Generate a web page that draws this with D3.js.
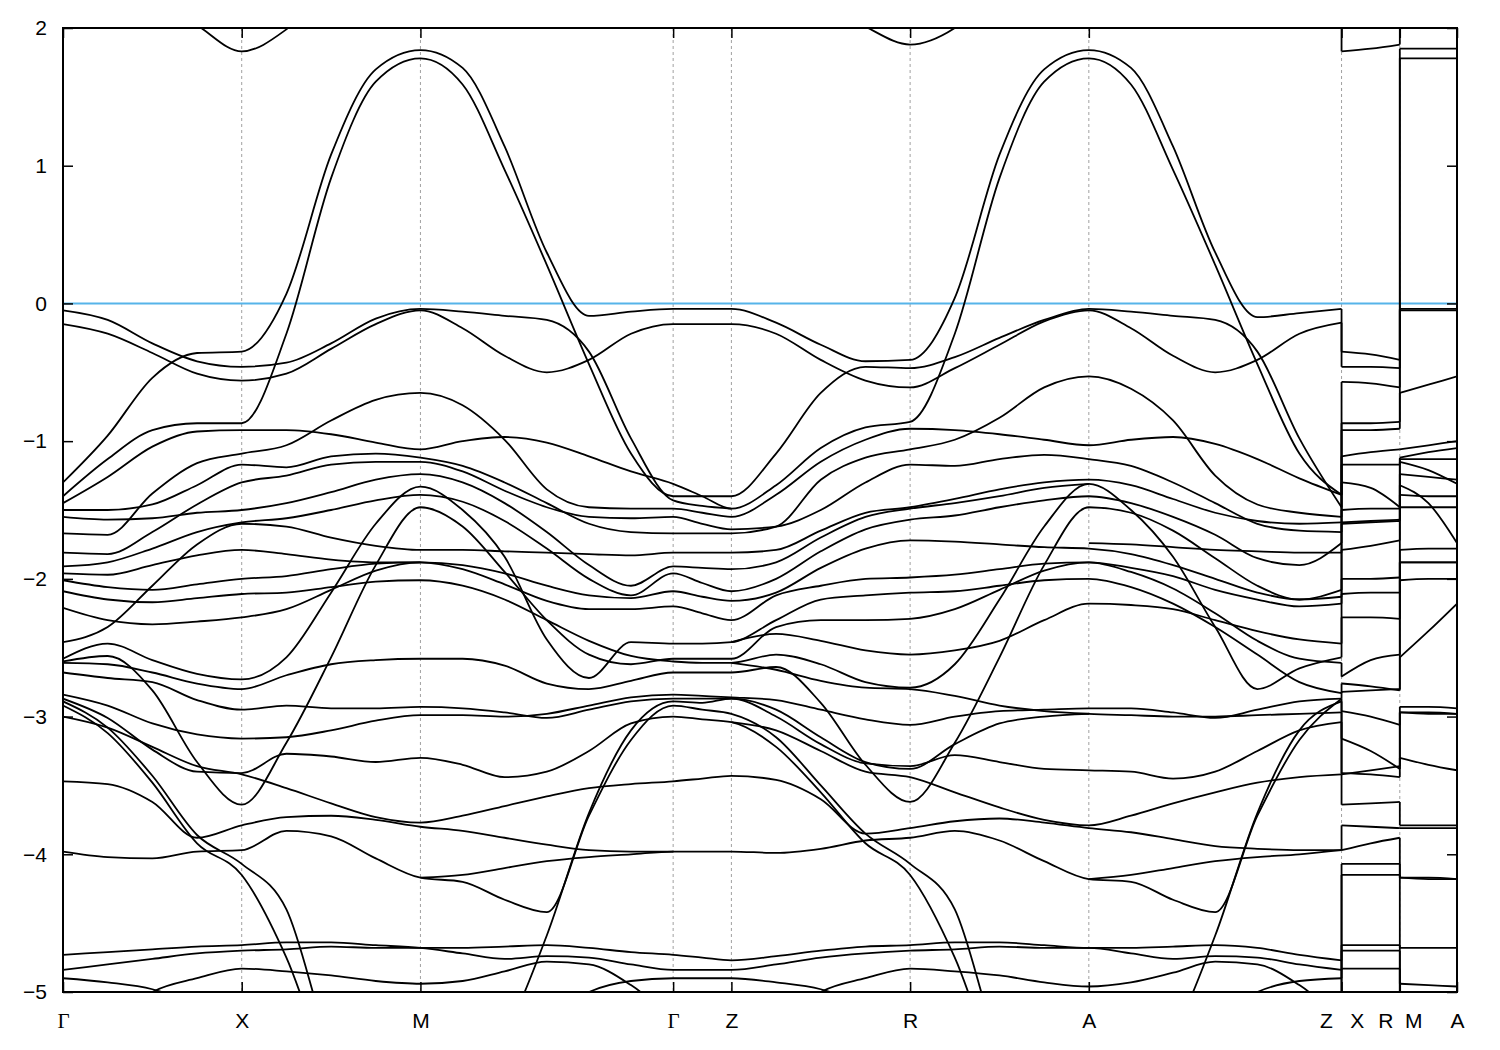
<!DOCTYPE html>
<html><head><meta charset="utf-8">
<script src="https://cdn.jsdelivr.net/npm/d3@7"></script>
<style>
body{margin:0;background:#fff}
text{font-family:"Liberation Sans",Arial,sans-serif}
</style>
</head><body>
<svg id="c" width="1500" height="1050"></svg>
<script>
// ---------- k-path ticks ----------
const tickPos = [0, 1, 2, 3.414, 3.74, 4.74, 5.74, 7.154, 7.48, 7.80];
const tickLabels = ["Γ", "X", "M", "Γ", "Z", "R", "A", "Z   X", "R  M", "A"];
const yTicks = [-5, -4, -3, -2, -1, 0, 1, 2];
const fermiLevel = 0;

// ---------- k samples per segment ----------
const kGX = [0, 0.25, 0.5, 0.75, 1];
const kXM = [1, 1.25, 1.5, 1.75, 2];
const kMG = [2, 2.236, 2.471, 2.707, 2.943, 3.178, 3.414];
const kGZ = [3.414, 3.577, 3.74];
const kZR = [3.74, 3.99, 4.24, 4.49, 4.74];
const kRA = [4.74, 4.99, 5.24, 5.49, 5.74];
const kAZ = [5.74, 5.976, 6.211, 6.447, 6.683, 6.918, 7.154];
const kXR = [7.154, 7.317, 7.48];
const kMA = [7.48, 7.64, 7.80];

// ---------- band energies (eV) ----------
const bandsGX = [
  [2.6, 2.45, 2.22, 2.02, 1.83],
  [-0.05, -0.12, -0.29, -0.42, -0.46],
  [-0.15, -0.22, -0.36, -0.51, -0.56],
  [-1.30, -0.96, -0.54, -0.36, -0.35],
  [-1.40, -1.13, -0.92, -0.87, -0.87],
  [-1.45, -1.26, -1.04, -0.93, -0.92],
  [-1.67, -1.68, -1.38, -1.16, -1.09],
  [-1.50, -1.50, -1.46, -1.32, -1.17],
  [-1.55, -1.57, -1.56, -1.52, -1.50],
  [-1.81, -1.82, -1.66, -1.46, -1.30],
  [-1.91, -1.88, -1.78, -1.66, -1.59],
  [-1.96, -1.97, -1.90, -1.83, -1.79],
  [-2.01, -2.06, -2.08, -2.04, -2.00],
  [-2.09, -2.15, -2.17, -2.14, -2.11],
  [-2.21, -2.30, -2.33, -2.31, -2.28],
  [-2.46, -2.35, -2.05, -1.75, -1.60],
  [-2.58, -2.47, -2.59, -2.69, -2.73],
  [-2.61, -2.62, -2.68, -2.76, -2.80],
  [-2.60, -2.56, -2.81, -3.33, -3.64],
  [-2.68, -2.72, -2.75, -2.88, -2.95],
  [-2.84, -2.92, -3.05, -3.13, -3.16],
  [-2.87, -3.01, -3.24, -3.40, -3.41],
  [-2.89, -3.08, -3.43, -3.86, -4.07],
  [-2.92, -3.12, -3.48, -3.92, -4.15],
  [-3.00, -3.08, -3.22, -3.36, -3.42],
  [-3.47, -3.49, -3.62, -3.88, -3.79],
  [-3.98, -4.02, -4.03, -3.98, -3.97],
  [-4.73, -4.71, -4.69, -4.67, -4.66],
  [-4.84, -4.80, -4.76, -4.72, -4.70],
  [-4.90, -4.93, -4.98, -5.10, -5.30],
  [-5.50, -5.25, -5.00, -4.90, -4.83]
];
const bandsXM = [
  [1.83, 1.99, 2.3, 2.5, 2.6],
  [-0.35, 0.07, 1.08, 1.70, 1.84],
  [-0.87, -0.22, 0.91, 1.61, 1.78],
  [-0.46, -0.43, -0.29, -0.11, -0.04],
  [-0.56, -0.51, -0.33, -0.15, -0.05],
  [-1.09, -1.03, -0.85, -0.70, -0.65],
  [-0.92, -0.92, -0.95, -1.01, -1.06],
  [-1.17, -1.19, -1.11, -1.09, -1.12],
  [-1.30, -1.25, -1.17, -1.15, -1.15],
  [-1.50, -1.45, -1.37, -1.28, -1.24],
  [-1.59, -1.56, -1.50, -1.43, -1.39],
  [-1.60, -1.62, -1.70, -1.76, -1.79],
  [-1.79, -1.82, -1.86, -1.88, -1.88],
  [-2.00, -1.98, -1.93, -1.89, -1.88],
  [-2.11, -2.10, -2.06, -2.02, -2.01],
  [-2.28, -2.22, -2.08, -1.94, -1.88],
  [-2.73, -2.57, -2.10, -1.60, -1.33],
  [-2.80, -2.70, -2.62, -2.59, -2.58],
  [-3.64, -3.19, -2.57, -1.90, -1.48],
  [-2.95, -2.92, -2.94, -2.94, -2.93],
  [-3.16, -3.15, -3.10, -3.03, -2.99],
  [-3.41, -3.27, -3.29, -3.33, -3.30],
  [-3.42, -3.52, -3.63, -3.73, -3.77],
  [-3.79, -3.73, -3.72, -3.75, -3.80],
  [-3.97, -3.83, -3.87, -4.03, -4.17],
  [-4.07, -4.40, -5.40, -5.80, -6.00],
  [-4.15, -4.75, -5.60, -6.00, -6.00],
  [-4.66, -4.64, -4.64, -4.66, -4.68],
  [-4.70, -4.69, -4.67, -4.68, -4.68],
  [-4.83, -4.85, -4.88, -4.92, -4.94]
];
const bandsMG = [
  [2.6, 2.6, 2.6, 2.6, 2.6, 2.6, 2.6],
  [1.84, 1.71, 1.14, 0.37, -0.09, -0.06, -0.04],
  [1.78, 1.59, 0.97, 0.28, -0.44, -1.09, -1.40],
  [-0.04, -0.06, -0.09, -0.12, -0.35, -0.98, -1.43],
  [-0.05, -0.18, -0.38, -0.50, -0.41, -0.22, -0.15],
  [-0.65, -0.74, -0.99, -1.35, -1.48, -1.49, -1.49],
  [-1.06, -1.00, -0.97, -1.01, -1.11, -1.22, -1.31],
  [-1.12, -1.18, -1.30, -1.45, -1.60, -1.66, -1.67],
  [-1.15, -1.22, -1.36, -1.48, -1.55, -1.56, -1.55],
  [-1.24, -1.30, -1.45, -1.66, -1.90, -2.05, -1.91],
  [-1.33, -1.50, -1.84, -2.44, -2.72, -2.46, -2.47],
  [-1.39, -1.44, -1.58, -1.78, -2.00, -2.12, -1.96],
  [-1.48, -1.62, -1.95, -2.30, -2.55, -2.62, -2.58],
  [-1.79, -1.79, -1.80, -1.81, -1.82, -1.83, -1.81],
  [-1.88, -1.90, -1.96, -2.05, -2.12, -2.14, -2.09],
  [-1.88, -1.93, -2.04, -2.16, -2.22, -2.22, -2.20],
  [-2.01, -2.05, -2.15, -2.30, -2.45, -2.56, -2.60],
  [-2.58, -2.58, -2.63, -2.76, -2.80, -2.74, -2.68],
  [-2.93, -2.94, -2.97, -3.01, -2.95, -2.89, -2.87],
  [-2.99, -2.99, -3.00, -2.98, -2.92, -2.86, -2.84],
  [-3.30, -3.35, -3.44, -3.40, -3.25, -3.05, -3.00],
  [-3.77, -3.72, -3.65, -3.58, -3.52, -3.49, -3.47],
  [-3.80, -3.83, -3.88, -3.93, -3.97, -3.98, -3.98],
  [-4.17, -4.20, -4.33, -4.42, -3.72, -3.17, -2.92],
  [-6.00, -5.60, -5.30, -4.59, -3.70, -3.10, -2.89],
  [-4.17, -4.15, -4.10, -4.05, -4.02, -4.00, -3.98],
  [-4.68, -4.68, -4.67, -4.66, -4.68, -4.71, -4.73],
  [-4.68, -4.72, -4.76, -4.74, -4.75, -4.80, -4.84],
  [-4.94, -4.92, -4.85, -4.78, -4.80, -4.95, -5.20],
  [-5.50, -5.50, -5.40, -5.20, -5.00, -4.92, -4.90]
];
const bandsGZ = [
  [-0.04, -0.04, -0.04], [-0.15, -0.15, -0.15], [-1.31, -1.40, -1.49],
  [-1.40, -1.40, -1.40], [-1.43, -1.47, -1.49], [-1.49, -1.52, -1.55],
  [-1.55, -1.60, -1.64], [-1.67, -1.67, -1.67], [-1.81, -1.81, -1.81],
  [-1.91, -1.92, -1.93], [-1.96, -2.03, -2.09], [-2.09, -2.13, -2.16],
  [-2.20, -2.25, -2.30], [-2.47, -2.47, -2.46], [-2.58, -2.58, -2.58],
  [-2.60, -2.61, -2.61], [-2.68, -2.68, -2.68], [-2.84, -2.85, -2.86],
  [-2.87, -2.87, -2.87], [-2.89, -2.90, -2.87], [-2.92, -2.95, -2.98],
  [-3.00, -3.02, -3.04], [-3.47, -3.45, -3.43], [-3.98, -3.98, -3.98],
  [-4.73, -4.75, -4.77], [-4.84, -4.84, -4.84], [-4.90, -4.90, -4.90]
];
const bandsZR = [
  [2.6, 2.4, 2.2, 2.01, 1.88],
  [-0.04, -0.14, -0.30, -0.42, -0.41],
  [-0.15, -0.22, -0.41, -0.56, -0.61],
  [-1.40, -1.09, -0.65, -0.46, -0.47],
  [-1.49, -1.32, -1.05, -0.90, -0.86],
  [-1.55, -1.39, -1.15, -0.99, -0.91],
  [-1.67, -1.62, -1.28, -1.12, -1.06],
  [-1.64, -1.62, -1.50, -1.30, -1.17],
  [-1.81, -1.79, -1.65, -1.52, -1.48],
  [-1.93, -1.88, -1.70, -1.55, -1.49],
  [-2.09, -2.00, -1.80, -1.64, -1.57],
  [-2.16, -2.10, -1.92, -1.78, -1.72],
  [-2.30, -2.12, -2.05, -2.00, -1.99],
  [-2.46, -2.30, -2.15, -2.12, -2.10],
  [-2.58, -2.35, -2.30, -2.30, -2.29],
  [-2.46, -2.40, -2.45, -2.52, -2.55],
  [-2.61, -2.55, -2.62, -2.75, -2.79],
  [-2.61, -2.66, -2.74, -2.79, -2.80],
  [-2.68, -2.64, -2.90, -3.35, -3.62],
  [-2.86, -2.88, -2.95, -3.02, -3.06],
  [-2.87, -2.95, -3.15, -3.33, -3.38],
  [-2.87, -3.00, -3.20, -3.34, -3.36],
  [-2.98, -3.15, -3.50, -3.85, -4.07],
  [-3.04, -3.22, -3.55, -3.92, -4.15],
  [-3.04, -3.10, -3.25, -3.40, -3.44],
  [-3.43, -3.46, -3.60, -3.85, -3.81],
  [-3.98, -3.99, -3.96, -3.90, -3.88],
  [-4.77, -4.74, -4.70, -4.67, -4.66],
  [-4.84, -4.80, -4.75, -4.72, -4.70],
  [-4.90, -4.93, -4.98, -5.10, -5.30],
  [-5.50, -5.25, -5.00, -4.90, -4.83]
];
const bandsRA = [
  [1.88, 2.0, 2.3, 2.5, 2.6],
  [-0.41, 0.04, 1.08, 1.70, 1.84],
  [-0.86, -0.22, 0.91, 1.61, 1.78],
  [-0.47, -0.39, -0.25, -0.12, -0.04],
  [-0.61, -0.47, -0.30, -0.13, -0.05],
  [-1.06, -0.99, -0.83, -0.61, -0.53],
  [-0.91, -0.92, -0.95, -0.99, -1.03],
  [-1.17, -1.18, -1.13, -1.10, -1.13],
  [-1.48, -1.42, -1.35, -1.30, -1.28],
  [-1.49, -1.45, -1.40, -1.34, -1.31],
  [-1.57, -1.54, -1.48, -1.43, -1.40],
  [-1.72, -1.73, -1.75, -1.77, -1.78],
  [-1.99, -1.97, -1.93, -1.89, -1.88],
  [-2.10, -2.09, -2.05, -2.01, -2.00],
  [-2.29, -2.22, -2.08, -1.94, -1.88],
  [-2.79, -2.62, -2.15, -1.62, -1.31],
  [-3.62, -3.19, -2.57, -1.90, -1.48],
  [-2.55, -2.52, -2.45, -2.30, -2.18],
  [-2.80, -2.85, -2.92, -2.96, -2.98],
  [-3.06, -3.00, -2.96, -2.95, -2.94],
  [-3.38, -3.20, -3.05, -3.00, -2.98],
  [-3.36, -3.28, -3.33, -3.38, -3.39],
  [-3.44, -3.55, -3.66, -3.75, -3.79],
  [-3.81, -3.76, -3.74, -3.77, -3.81],
  [-3.88, -3.83, -3.90, -4.05, -4.18],
  [-4.07, -4.40, -5.40, -5.80, -6.00],
  [-4.15, -4.75, -5.60, -6.00, -6.00],
  [-4.66, -4.64, -4.64, -4.66, -4.68],
  [-4.70, -4.69, -4.67, -4.68, -4.68],
  [-4.83, -4.85, -4.88, -4.93, -4.96]
];
const bandsAZ = [
  [2.6, 2.6, 2.6, 2.6, 2.6, 2.6, 2.6],
  [1.84, 1.71, 1.14, 0.37, -0.10, -0.07, -0.04],
  [1.78, 1.59, 0.97, 0.28, -0.44, -1.09, -1.39],
  [-0.04, -0.06, -0.09, -0.12, -0.35, -0.98, -1.48],
  [-0.05, -0.18, -0.38, -0.50, -0.41, -0.22, -0.14],
  [-0.53, -0.62, -0.85, -1.25, -1.46, -1.52, -1.55],
  [-1.03, -0.99, -0.97, -1.02, -1.13, -1.27, -1.39],
  [-1.13, -1.18, -1.30, -1.45, -1.60, -1.65, -1.66],
  [-1.28, -1.32, -1.42, -1.52, -1.58, -1.60, -1.59],
  [-1.40, -1.45, -1.55, -1.68, -1.85, -1.90, -1.74],
  [-1.31, -1.50, -1.84, -2.35, -2.80, -2.65, -2.57],
  [-1.48, -1.52, -1.65, -1.85, -2.05, -2.15, -2.08],
  [-1.74, -1.75, -1.77, -1.79, -1.80, -1.81, -1.81],
  [-1.78, -1.82, -1.90, -2.00, -2.10, -2.15, -2.13],
  [-1.88, -1.92, -1.98, -2.08, -2.15, -2.20, -2.18],
  [-1.88, -1.95, -2.07, -2.25, -2.45, -2.58, -2.61],
  [-2.00, -2.06, -2.18, -2.35, -2.55, -2.75, -2.83],
  [-2.18, -2.19, -2.22, -2.30, -2.38, -2.44, -2.47],
  [-2.94, -2.94, -2.97, -3.01, -2.95, -2.89, -2.87],
  [-2.98, -2.99, -3.00, -3.00, -2.99, -2.98, -2.97],
  [-3.39, -3.40, -3.45, -3.40, -3.25, -3.10, -3.04],
  [-3.79, -3.72, -3.63, -3.55, -3.48, -3.44, -3.42],
  [-3.81, -3.84, -3.89, -3.94, -3.96, -3.97, -3.97],
  [-4.18, -4.20, -4.33, -4.42, -3.72, -3.17, -2.87],
  [-6.00, -5.60, -5.30, -4.59, -3.70, -3.10, -2.89],
  [-4.18, -4.15, -4.10, -4.05, -4.02, -4.00, -3.97],
  [-4.68, -4.68, -4.67, -4.66, -4.68, -4.73, -4.77],
  [-4.68, -4.72, -4.76, -4.74, -4.75, -4.80, -4.84],
  [-4.96, -4.93, -4.86, -4.78, -4.80, -4.95, -5.20],
  [-5.50, -5.50, -5.40, -5.20, -5.00, -4.92, -4.90],
  [-5.80, -5.80, -5.80, -5.70, -5.60, -5.50, -5.40]
];
const bandsXR = [
  [1.83, 1.85, 1.88], [-0.35, -0.37, -0.41], [-0.46, -0.46, -0.47],
  [-0.57, -0.58, -0.61], [-0.87, -0.87, -0.86], [-0.92, -0.92, -0.91],
  [-1.11, -1.08, -1.06], [-1.17, -1.17, -1.17], [-1.30, -1.34, -1.48],
  [-1.50, -1.49, -1.49], [-1.59, -1.58, -1.57], [-1.60, -1.59, -1.58],
  [-1.79, -1.76, -1.72], [-2.00, -2.00, -1.99], [-2.11, -2.10, -2.10],
  [-2.28, -2.28, -2.29], [-2.71, -2.59, -2.55], [-2.76, -2.78, -2.81],
  [-2.82, -2.81, -2.80], [-2.96, -3.00, -3.06], [-3.16, -3.25, -3.38],
  [-3.42, -3.39, -3.36], [-3.41, -3.42, -3.44], [-3.64, -3.63, -3.62],
  [-3.79, -3.80, -3.81], [-3.97, -3.92, -3.88], [-4.07, -4.07, -4.07],
  [-4.15, -4.15, -4.15], [-4.66, -4.66, -4.66], [-4.70, -4.70, -4.70],
  [-4.83, -4.83, -4.83]
];
const bandsMA = [
  [2.6, 2.6, 2.6], [1.85, 1.85, 1.85], [1.78, 1.78, 1.78],
  [-0.04, -0.04, -0.04], [-0.05, -0.05, -0.05], [-0.65, -0.59, -0.53],
  [-1.06, -1.03, -1.00], [-1.12, -1.08, -1.05], [-1.13, -1.13, -1.13],
  [-1.15, -1.21, -1.31], [-1.24, -1.26, -1.28], [-1.32, -1.45, -1.74],
  [-1.39, -1.40, -1.40], [-1.48, -1.48, -1.48], [-1.79, -1.78, -1.78],
  [-1.88, -1.88, -1.88], [-1.88, -1.88, -1.88], [-2.01, -2.00, -2.00],
  [-2.57, -2.38, -2.18], [-2.93, -2.93, -2.94], [-2.97, -2.97, -2.98],
  [-2.97, -2.98, -2.98], [-3.30, -3.35, -3.39], [-3.79, -3.79, -3.79],
  [-3.81, -3.81, -3.81], [-4.17, -4.17, -4.18], [-4.17, -4.18, -4.18],
  [-4.68, -4.68, -4.68], [-4.94, -4.95, -4.96], [-5.40, -5.40, -5.40],
  [-5.60, -5.60, -5.60]
];

// ---------- drawing ----------
const L = 63, R = 1457, T = 28, B = 992;
const x = d3.scaleLinear().domain([0, 7.80]).range([L, R]);
const y = d3.scaleLinear().domain([-5, 2]).range([B, T]);
const svg = d3.select("#c");
svg.append("rect").attr("width", 1500).attr("height", 1050).attr("fill", "#fff");
svg.append("defs").append("clipPath").attr("id", "clip")
  .append("rect").attr("x", L).attr("y", T).attr("width", R - L).attr("height", B - T);

// dashed grid at internal symmetry points
svg.append("g").selectAll("line").data(tickPos.slice(1, -1)).join("line")
  .attr("x1", d => x(d)).attr("x2", d => x(d)).attr("y1", T).attr("y2", B)
  .attr("stroke", "#a0a0a0").attr("stroke-width", 1).attr("stroke-dasharray", "3,3");

const plot = svg.append("g").attr("clip-path", "url(#clip)");

// Fermi level
plot.append("line").attr("x1", L).attr("x2", R)
  .attr("y1", y(fermiLevel)).attr("y2", y(fermiLevel))
  .attr("stroke", "#56b4e9").attr("stroke-width", 2);

// join the segment pieces of the continuous path into bands (match equal energies at joints)
function buildChains(segs) {
  const chains = [];
  segs.forEach(([ks, bands], si) => {
    const open = chains.filter(c => c.end === ks[0]);
    const used = new Set();
    bands.forEach(b => {
      const pts = ks.map((k, i) => [k, b[i]]);
      let best = null, bd = 0.031;
      if (si > 0) open.forEach(c => {
        if (used.has(c)) return;
        const d = Math.abs(c.pts[c.pts.length - 1][1] - b[0]);
        if (d <= bd) { bd = d; best = c; }
      });
      if (best) { used.add(best); best.pts.push(...pts.slice(1)); best.end = ks[ks.length - 1]; }
      else chains.push({ pts, end: ks[ks.length - 1] });
    });
  });
  return chains;
}
const mainChains = buildChains([
  [kGX, bandsGX], [kXM, bandsXM], [kMG, bandsMG], [kGZ, bandsGZ],
  [kZR, bandsZR], [kRA, bandsRA], [kAZ, bandsAZ]
]);
const sideChains = buildChains([[kXR, bandsXR]]).concat(buildChains([[kMA, bandsMA]]));

const line = d3.line().x(d => x(d[0])).y(d => y(d[1])).curve(d3.curveMonotoneX);
plot.append("g").selectAll("path").data(mainChains.concat(sideChains)).join("path")
  .attr("d", c => line(c.pts))
  .attr("fill", "none").attr("stroke", "#000").attr("stroke-width", 1.8)
  .attr("stroke-linejoin", "round");

// vertical jumps at discontinuities (band order pairing)
function jumps(kPos, endVals, startVals) {
  const a = endVals.slice().sort((p, q) => q - p);
  const b = startVals.slice().sort((p, q) => q - p);
  const n = Math.min(a.length, b.length);
  const pairs = [];
  for (let i = 0; i < n; i++) pairs.push([a[i], b[i]]);
  plot.append("g").selectAll("line").data(pairs).join("line")
    .attr("x1", x(kPos)).attr("x2", x(kPos))
    .attr("y1", d => y(d[0])).attr("y2", d => y(d[1]))
    .attr("stroke", "#000").attr("stroke-width", 1.8);
}
jumps(7.154, bandsAZ.map(b => b[b.length - 1]), bandsXR.map(b => b[0]));
jumps(7.48, bandsXR.map(b => b[b.length - 1]), bandsMA.map(b => b[0]));

// axes
const fontSize = 21;
const axL = svg.append("g").attr("transform", `translate(${L},0)`)
  .call(d3.axisLeft(y).tickValues(yTicks).tickFormat(d3.format("d")).tickSize(-10).tickPadding(16));
const axR = svg.append("g").attr("transform", `translate(${R},0)`)
  .call(d3.axisRight(y).tickValues(yTicks).tickFormat("").tickSize(-10));
const axB = svg.append("g").attr("transform", `translate(0,${B})`)
  .call(d3.axisBottom(x).tickValues(tickPos).tickFormat((d, i) => tickLabels[i]).tickSize(-10).tickPadding(21));
const axT = svg.append("g").attr("transform", `translate(0,${T})`)
  .call(d3.axisTop(x).tickValues(tickPos).tickFormat("").tickSize(-10));
[axL, axR, axB, axT].forEach(a => {
  a.select(".domain").remove();
  a.selectAll(".tick line").attr("stroke", "#000").attr("stroke-width", 1.5);
  a.selectAll("text").attr("fill", "#000").style("font-size", fontSize + "px")
    .style("font-family", "'Liberation Sans', Arial, sans-serif");
});
axB.selectAll("text").attr("xml:space", "preserve").style("white-space", "pre")
  .filter(function () { return d3.select(this).text() === "Γ"; })
  .style("font-family", "'Liberation Serif', 'DejaVu Serif', serif");

// frame
svg.append("rect").attr("x", L).attr("y", T).attr("width", R - L).attr("height", B - T)
  .attr("fill", "none").attr("stroke", "#000").attr("stroke-width", 2);
</script>
</body></html>
